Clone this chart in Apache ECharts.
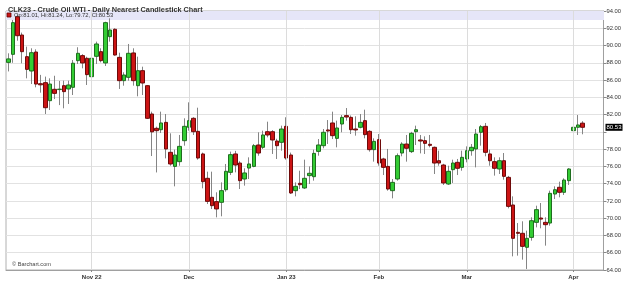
<!DOCTYPE html>
<html><head><meta charset="utf-8">
<script src="https://cdn.jsdelivr.net/npm/echarts@6/dist/echarts.min.js"></script>
<style>html,body{margin:0;padding:0;background:#fff}#c{width:624px;height:293px}</style>
</head><body><div id="c"></div>
<script>
const dates = [
'2022-10-06','2022-10-07','2022-10-10','2022-10-11','2022-10-12','2022-10-13','2022-10-14','2022-10-17','2022-10-18','2022-10-19','2022-10-20','2022-10-21','2022-10-24','2022-10-25','2022-10-26','2022-10-27','2022-10-28','2022-10-31',
'2022-11-01','2022-11-02','2022-11-03','2022-11-04','2022-11-07','2022-11-08','2022-11-09','2022-11-10','2022-11-11','2022-11-14','2022-11-15','2022-11-16','2022-11-17','2022-11-18','2022-11-21','2022-11-22','2022-11-23','2022-11-25','2022-11-28','2022-11-29','2022-11-30',
'2022-12-01','2022-12-02','2022-12-05','2022-12-06','2022-12-07','2022-12-08','2022-12-09','2022-12-12','2022-12-13','2022-12-14','2022-12-15','2022-12-16','2022-12-19','2022-12-20','2022-12-21','2022-12-22','2022-12-23','2022-12-27','2022-12-28','2022-12-29','2022-12-30',
'2023-01-03','2023-01-04','2023-01-05','2023-01-06','2023-01-09','2023-01-10','2023-01-11','2023-01-12','2023-01-13','2023-01-17','2023-01-18','2023-01-19','2023-01-20','2023-01-23','2023-01-24','2023-01-25','2023-01-26','2023-01-27','2023-01-30','2023-01-31',
'2023-02-01','2023-02-02','2023-02-03','2023-02-06','2023-02-07','2023-02-08','2023-02-09','2023-02-10','2023-02-13','2023-02-14','2023-02-15','2023-02-16','2023-02-17','2023-02-21','2023-02-22','2023-02-23','2023-02-24','2023-02-27','2023-02-28',
'2023-03-01','2023-03-02','2023-03-03','2023-03-06','2023-03-07','2023-03-08','2023-03-09','2023-03-10','2023-03-13','2023-03-14','2023-03-15','2023-03-16','2023-03-17','2023-03-20','2023-03-21','2023-03-22','2023-03-23','2023-03-24','2023-03-27','2023-03-28','2023-03-29','2023-03-30','2023-03-31',
'2023-04-03','2023-04-04','2023-04-05'];

const open = [
88.05,88.98,93.34,91.22,88.71,87.05,89.25,85.58,85.70,83.61,84.93,84.90,85.35,84.97,85.16,88.25,88.83,88.52,
86.39,88.75,89.29,87.98,91.03,91.88,88.63,85.93,86.32,89.14,85.35,87.09,85.35,82.07,80.41,80.25,81.10,77.63,76.00,76.55,78.98,
80.53,81.57,80.06,77.44,74.62,72.42,71.92,71.84,73.30,75.31,77.44,76.39,74.54,75.81,76.00,78.48,78.21,80.02,80.02,78.94,78.79,
80.64,77.32,73.19,74.04,73.50,74.93,74.81,77.74,78.40,80.22,81.03,79.25,80.91,81.88,81.68,80.33,80.53,81.30,80.06,77.94,
79.10,76.86,76.00,73.19,74.54,77.55,78.59,77.71,80.02,79.06,78.98,78.56,78.21,76.66,76.16,73.96,75.62,76.47,75.89,
76.86,77.82,78.02,79.95,80.64,77.44,76.55,75.70,76.66,74.73,71.53,68.36,68.25,66.63,67.78,69.52,70.02,69.52,69.44,72.80,73.58,73.00,74.35,
80.14,80.53,81.01];
const high = [
89.10,92.96,93.60,91.50,89.87,89.68,89.56,86.60,86.40,86.20,86.50,85.90,85.93,85.93,88.32,89.80,89.00,88.70,
89.40,90.45,89.68,92.76,93.15,92.00,89.17,86.90,90.18,89.68,88.71,87.55,85.40,82.34,80.60,82.34,82.07,79.83,77.94,79.64,81.57,
83.42,81.70,82.80,77.60,75.39,75.39,73.00,74.15,76.28,77.71,77.80,76.60,75.78,77.05,78.60,79.95,80.14,81.18,80.20,79.20,80.72,
81.69,77.60,74.15,75.50,76.78,76.00,77.94,79.17,80.33,81.37,82.34,81.30,81.95,82.76,81.90,81.80,82.07,82.57,80.20,79.25,
79.75,77.00,78.02,74.54,77.50,78.80,79.64,80.00,80.72,79.64,79.48,79.64,78.30,77.82,76.30,76.08,76.78,76.86,77.82,
78.32,78.59,80.33,80.80,81.03,77.94,77.05,77.05,77.55,74.90,72.53,69.44,69.64,68.56,70.10,71.45,71.76,70.10,73.19,73.69,74.23,74.62,75.80,
81.80,81.95,81.24];
const low = [
87.00,88.00,90.56,87.94,86.20,85.54,85.16,84.54,82.07,82.53,83.80,83.10,82.73,83.23,84.27,87.86,87.36,85.43,
86.12,87.86,88.05,87.63,90.45,88.83,84.97,85.35,85.93,85.35,84.12,84.27,81.49,77.20,75.30,79.87,76.93,76.08,73.69,76.08,78.40,
80.14,79.64,76.78,73.46,71.64,71.06,70.10,70.22,73.07,75.00,75.31,73.38,73.77,74.54,75.90,77.24,78.02,79.37,77.44,76.86,77.82,
76.78,72.80,72.53,73.38,73.38,73.96,74.35,77.24,78.10,78.60,79.17,78.21,79.95,81.30,79.75,79.56,80.41,79.25,77.71,76.55,
76.08,75.00,73.19,72.30,74.35,77.17,76.55,77.55,78.48,77.51,77.44,78.21,75.12,76.08,73.85,73.85,74.08,75.00,75.50,
76.47,77.24,75.89,78.40,77.17,76.08,74.93,75.12,74.46,71.14,65.58,65.66,65.20,64.12,67.40,68.94,68.83,66.82,69.14,72.22,72.42,72.69,73.85,
78.98,79.64,79.72];
const close = [
88.45,92.65,91.14,89.29,87.24,89.17,85.54,85.45,82.80,85.54,84.46,84.95,84.66,85.43,87.95,89.10,87.98,86.63,
88.52,90.18,88.25,92.65,91.80,88.90,85.93,86.59,89.10,85.93,87.09,85.66,81.57,80.00,80.14,81.03,78.02,76.28,77.32,78.32,80.64,
81.30,80.02,76.97,74.23,71.95,71.45,71.07,73.19,75.43,77.36,76.16,74.35,75.24,76.28,78.40,77.55,79.64,79.64,79.06,78.40,80.33,
76.97,72.92,73.69,73.88,74.62,75.20,77.51,78.48,79.95,80.10,79.56,80.45,81.68,81.72,80.25,80.22,81.10,79.68,77.94,78.90,
76.39,75.89,73.38,74.15,77.24,78.59,78.10,79.83,80.25,78.94,78.67,78.44,76.39,76.39,74.08,75.43,76.39,75.78,77.05,
77.82,78.21,79.75,80.60,77.63,76.66,75.78,76.66,74.85,71.37,67.67,68.25,66.74,67.67,69.71,70.99,69.90,69.25,72.88,73.30,73.00,74.42,75.70,
80.53,80.80,80.53];

const padCats = ['p1','p2','p3','p4'];
const tickDates = ['2022-11-01','2022-12-01','2023-01-03','2023-02-01','2023-03-01','2023-04-03'];
const tickLabels = ['Nov 22','Dec','Jan 23','Feb','Mar','Apr'];
const yMin = 64, yMax = 94, yStep = 2;
const titleText = 'CLK23 - Crude Oil WTI - Daily Nearest Candlestick Chart';
const sourceText = '\u00A9 Barchart.com';

const FONT = '"Liberation Sans", Arial, sans-serif';
const last = close.length - 1;
const lastClose = close[last];
const legendText = 'Op:' + open[last].toFixed(2) + ', Hi:' + high[last].toFixed(2) +
  ', Lo:' + low[last].toFixed(2) + ', Cl:' + close[last].toFixed(2);

const cats = dates.concat(padCats);
const isTick = (v) => tickDates.indexOf(v) >= 0;
const wickData = dates.map((d, i) => [open[i], close[i], low[i], high[i]]);
const bodyData = dates.map((d, i) => [open[i], close[i], Math.min(open[i], close[i]), Math.max(open[i], close[i])]);

const chart = echarts.init(document.getElementById('c'), null, {renderer: 'canvas'});
chart.setOption({
  animation: false,
  backgroundColor: '#fff',
  textStyle: {fontFamily: FONT},
  title: {
    text: titleText, left: 3, top: 1,
    textStyle: {fontFamily: FONT, fontSize: 7.3, fontWeight: 'bold', color: '#333'}
  },
  grid: {left: 6, right: 20, top: 11, bottom: 23, show: true, borderColor: '#b0b0b0', borderWidth: 1},
  xAxis: {
    type: 'category', data: cats, boundaryGap: true,
    axisLine: {lineStyle: {color: '#a0a0a0'}},
    axisTick: {show: true, alignWithLabel: true, length: 2, interval: (i, v) => isTick(v), lineStyle: {color: '#888'}},
    axisLabel: {
      interval: (i, v) => isTick(v), margin: 4,
      fontSize: 6, fontWeight: 'bold', color: '#333', fontFamily: FONT,
      formatter: (v) => { const k = tickDates.indexOf(v); return k >= 0 ? tickLabels[k] : ''; }
    },
    splitLine: {show: false}
  },
  yAxis: {
    type: 'value', position: 'right', min: yMin, max: yMax, interval: yStep, scale: true,
    axisLine: {show: true, lineStyle: {color: '#a0a0a0'}},
    axisTick: {show: true, length: 3, lineStyle: {color: '#888'}},
    axisLabel: {
      margin: 3, fontSize: 5.8, color: '#333', fontFamily: FONT,
      formatter: (v) => Math.abs(v - lastClose) < 1 ? '' : v.toFixed(2)
    },
    splitLine: {show: true, lineStyle: {color: '#e2e2e2', width: 1}}
  },
  graphic: [
    {type: 'rect', z: 1, silent: true, shape: {x: 6, y: 11, width: 598, height: 9}, style: {fill: '#e6e6f8'}},
    {type: 'rect', z: 10, silent: true, shape: {x: 7, y: 13, width: 4, height: 4}, style: {fill: '#c81414', stroke: '#6a0000', lineWidth: 0.8}},
    {type: 'text', z: 10, silent: true, left: 14, top: 12, style: {text: legendText, font: '5.8px ' + FONT, fill: '#333'}},
    {type: 'text', z: 10, silent: true, left: 12, top: 261, style: {text: sourceText, font: '5.6px ' + FONT, fill: '#444'}}
  ],
  series: [
    {
      type: 'line', data: close, z: 1, silent: true, showSymbol: false,
      lineStyle: {opacity: 0},
      markLine: {
        silent: true, symbol: ['none', 'none'], animation: false,
        label: {show: false},
        lineStyle: {color: '#dcdcdc', width: 1, type: 'solid'},
        data: tickDates.map(d => ({xAxis: d}))
      }
    },
    {
      type: 'candlestick', data: wickData, barWidth: 1, z: 2, silent: true,
      itemStyle: {color: '#858585', color0: '#858585', borderColor: '#858585', borderColor0: '#858585', borderWidth: 1}
    },
    {
      type: 'candlestick', data: bodyData, barWidth: 4, z: 3, silent: true,
      itemStyle: {color: '#33cc33', color0: '#cc1414', borderColor: '#1f6e1f', borderColor0: '#6e0a0a', borderWidth: 1}
    },
    {
      type: 'line', data: [], z: 5, silent: true, showSymbol: false,
      markLine: {
        silent: true, symbol: ['none', 'none'], animation: false,
        lineStyle: {color: 'rgba(0,0,0,0)', width: 0},
        label: {
          show: true, position: 'end', distance: 2,
          formatter: (p) => Number(p.value).toFixed(2),
          backgroundColor: '#000', color: '#fff', padding: [1, 1, 0, 1],
          fontSize: 6, fontFamily: FONT
        },
        data: [{yAxis: lastClose}]
      }
    }
  ]
});
</script></body></html>
